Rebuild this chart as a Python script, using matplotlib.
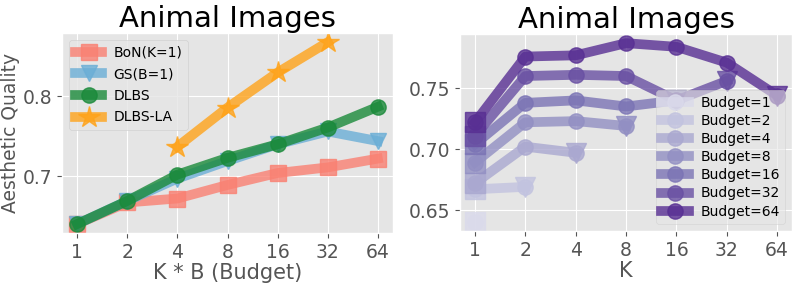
import numpy as np
import matplotlib.pyplot as plt

plt.style.use("ggplot")

budgets = [1, 2, 4, 8, 16, 32, 64]
tick_labels = ["1", "2", "4", "8", "16", "32", "64"]

bon = [0.640, 0.667, 0.672, 0.689, 0.704, 0.711, 0.722]
gs = [0.640, 0.669, 0.697, 0.719, 0.740, 0.756, 0.744]
dlbs = [0.640, 0.669, 0.702, 0.723, 0.740, 0.761, 0.787]
dlbs_la_x = [4, 8, 16, 32]
dlbs_la = [0.737, 0.786, 0.830, 0.868]

# right panel: score for each budget as K goes 1..budget
by_budget = {
    1: [0.640],
    2: [0.667, 0.669],
    4: [0.672, 0.702, 0.697],
    8: [0.689, 0.722, 0.723, 0.719],
    16: [0.704, 0.738, 0.740, 0.735, 0.740],
    32: [0.711, 0.760, 0.761, 0.760, 0.740, 0.756],
    64: [0.722, 0.776, 0.777, 0.787, 0.784, 0.771, 0.744],
}

fig = plt.figure(figsize=(7.97, 2.85), dpi=100)
ax1 = fig.add_axes([0.078, 0.182, 0.415, 0.702])
ax2 = fig.add_axes([0.577, 0.189, 0.417, 0.691])

lw = 7
ms = 11
ax1.plot(budgets, bon, marker="s", color="#fa8072", lw=lw, ms=ms, alpha=0.8, label="BoN(K=1)")
ax1.plot(budgets, gs, marker="v", color="#6baed6", lw=lw, ms=ms, alpha=0.8, label="GS(B=1)")
ax1.plot(budgets, dlbs, marker="o", color="#1a8a3a", lw=lw, ms=ms, alpha=0.8, label="DLBS")
ax1.plot(dlbs_la_x, dlbs_la, marker="*", color="#ffa31a", lw=lw, ms=16, alpha=0.8, label="DLBS-LA")
ax1.set_xscale("log", base=2)
ax1.set_xticks(budgets)
ax1.set_xticklabels(tick_labels)
ax1.minorticks_off()
ax1.set_yticks([0.7, 0.8])
ax1.set_title("Animal Images", fontsize=21, pad=4)
ax1.set_xlabel("K * B (Budget)", fontsize=15, labelpad=1)
ax1.set_ylabel("Aesthetic Quality", fontsize=13.5, labelpad=2)
ax1.tick_params(labelsize=13.5)
ax1.legend(loc="upper left", fontsize=10, labelspacing=0.55)

colors = plt.cm.Purples(np.linspace(0.25, 0.85, len(budgets)))
for c, b in zip(colors, budgets):
    vals = by_budget[b]
    ks = budgets[:len(vals)]
    ax2.plot(ks, vals, color=c, lw=lw, alpha=0.8, marker="o", ms=ms, label="Budget=%d" % b)
    ax2.plot(ks[0], vals[0], marker="s", color=c, ms=ms + 3, alpha=0.8, ls="none")
    if len(vals) > 1:
        ax2.plot(ks[-1], vals[-1], marker="v", color=c, ms=ms + 3, alpha=0.8, ls="none")
ax2.set_xscale("log", base=2)
ax2.set_xticks(budgets)
ax2.set_xticklabels(tick_labels)
ax2.minorticks_off()
ax2.set_yticks([0.65, 0.70, 0.75])
ax2.set_title("Animal Images", fontsize=21, pad=4)
ax2.set_xlabel("K", fontsize=15, labelpad=1)
ax2.tick_params(labelsize=13.5)
ax2.legend(loc="lower right", fontsize=10, labelspacing=0.3, framealpha=0.6)

fig.savefig("out.png", dpi=100)
